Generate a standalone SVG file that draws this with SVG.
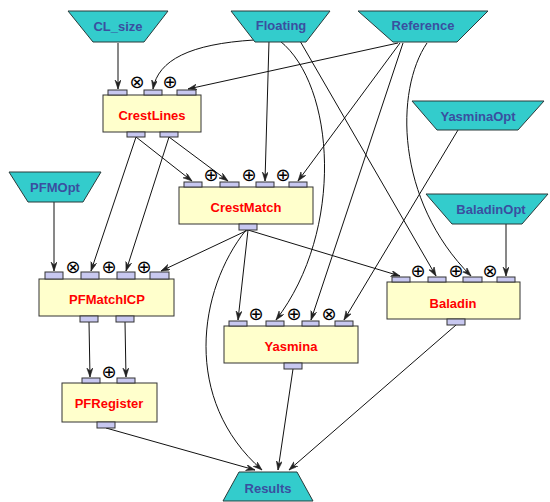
<svg xmlns="http://www.w3.org/2000/svg" width="550" height="502" viewBox="0 0 550 502">
<style>
.io polygon{fill:#33cccc;stroke:#2a3a3a;stroke-width:1}
.io text{font-family:"Liberation Sans",Arial,sans-serif;font-weight:bold;font-size:13px;fill:#3a4fa0;text-anchor:middle}
.box rect.b{fill:#ffffcc;stroke:#333;stroke-width:1}
.box rect.p{fill:#c8c8f0;stroke:#333;stroke-width:1}
.box text.l{font-family:"Liberation Sans",Arial,sans-serif;font-weight:bold;font-size:13px;fill:#ff0000;text-anchor:middle}
.sym{font-family:"DejaVu Sans","Noto Sans",sans-serif;font-size:18px;fill:#000000;text-anchor:middle}
#edges path{fill:none;stroke:#111;stroke-width:1;marker-end:url(#arr)}
</style>
<defs>
<marker id="arr" markerWidth="10" markerHeight="8" refX="9" refY="3" orient="auto" markerUnits="userSpaceOnUse">
<path d="M0,0 L9,3 L0,6 L3,3 Z" fill="#222" stroke="#222" stroke-width="0.6"/>
</marker>
</defs>

<g id="edges">
<path d="M118,43 L118,89"/>
<path d="M254,40 C190,44 158,60 153,89"/>
<path d="M398,43 L188,89"/>
<path d="M269,41 L265,181"/>
<path d="M400,43 L298,181"/>
<path d="M136,137 L192,181"/>
<path d="M169,137 L228,181"/>
<path d="M136,137 L91,271"/>
<path d="M169,137 L126,271"/>
<path d="M54,202 L54,271"/>
<path d="M248,230 L161,271"/>
<path d="M248,230 L238,320"/>
<path d="M248,230 L400,276"/>
<path d="M246,230 C198,290 182,400 262,470"/>
<path d="M280,41 C335,85 345,230 276,320"/>
<path d="M300,41 L436,276"/>
<path d="M403,43 L311,320"/>
<path d="M427,43 C395,90 395,200 471,276"/>
<path d="M458,130 L344,320"/>
<path d="M506,224 L506,276"/>
<path d="M89,322 L90,377"/>
<path d="M125,322 L126,377"/>
<path d="M106,428 L255,470"/>
<path d="M293,369 L278,470"/>
<path d="M456,325 L289,470"/>
</g>

<g id="CL_size" class="io"><polygon points="68,11 168,11 144,42 93,42"/><text x="118" y="31">CL_size</text></g>
<g id="Floating" class="io"><polygon points="231,11 330,11 306,42 255,42"/><text x="281" y="30">Floating</text></g>
<g id="Reference" class="io"><polygon points="358,11 488,11 457,42 393,42"/><text x="423" y="30">Reference</text></g>
<g id="YasminaOpt" class="io"><polygon points="412,101 544,101 518,130 437,130"/><text x="478" y="121">YasminaOpt</text></g>
<g id="PFMOpt" class="io"><polygon points="9,172 101,172 83,202 28,202"/><text x="55" y="192">PFMOpt</text></g>
<g id="BaladinOpt" class="io"><polygon points="426,194 548,194 522,224 452,224"/><text x="491" y="214">BaladinOpt</text></g>
<g id="Results" class="io"><polygon points="239,472 297,472 313,501 223,501"/><text x="268" y="493">Results</text></g>

<g id="CrestLines" class="box">
<rect class="b" x="103" y="95" width="98" height="37"/>
<rect class="p" x="108" y="90" width="19" height="5"/>
<rect class="p" x="144" y="90" width="18" height="5"/>
<rect class="p" x="177" y="90" width="19" height="5"/>
<rect class="p" x="127" y="132" width="18" height="5"/>
<rect class="p" x="160" y="132" width="18" height="5"/>
<text class="sym" x="137" y="88">⊗</text>
<text class="sym" x="170" y="88">⊕</text>
<text class="l" x="152" y="120">CrestLines</text>
</g>

<g id="CrestMatch" class="box">
<rect class="b" x="179" y="187" width="134" height="37"/>
<rect class="p" x="184" y="182" width="18" height="5"/>
<rect class="p" x="220" y="182" width="19" height="5"/>
<rect class="p" x="256" y="182" width="18" height="5"/>
<rect class="p" x="289" y="182" width="18" height="5"/>
<rect class="p" x="239" y="224" width="18" height="6"/>
<text class="sym" x="211" y="181">⊕</text>
<text class="sym" x="249" y="181">⊕</text>
<text class="sym" x="283" y="181">⊕</text>
<text class="l" x="246" y="212">CrestMatch</text>
</g>

<g id="PFMatchICP" class="box">
<rect class="b" x="39" y="279" width="135" height="37"/>
<rect class="p" x="45" y="272" width="18" height="7"/>
<rect class="p" x="81" y="272" width="18" height="7"/>
<rect class="p" x="117" y="272" width="18" height="7"/>
<rect class="p" x="150" y="272" width="19" height="7"/>
<rect class="p" x="80" y="316" width="18" height="6"/>
<rect class="p" x="116" y="316" width="18" height="6"/>
<text class="sym" x="73" y="273">⊗</text>
<text class="sym" x="109" y="273">⊕</text>
<text class="sym" x="144" y="273">⊕</text>
<text class="l" x="107" y="304">PFMatchICP</text>
</g>

<g id="Yasmina" class="box">
<rect class="b" x="224" y="326" width="134" height="37"/>
<rect class="p" x="229" y="321" width="18" height="5"/>
<rect class="p" x="266" y="321" width="18" height="5"/>
<rect class="p" x="302" y="321" width="17" height="5"/>
<rect class="p" x="335" y="321" width="18" height="5"/>
<rect class="p" x="284" y="363" width="18" height="6"/>
<text class="sym" x="256" y="320">⊕</text>
<text class="sym" x="294" y="320">⊕</text>
<text class="sym" x="329" y="320">⊗</text>
<text class="l" x="291" y="351">Yasmina</text>
</g>

<g id="Baladin" class="box">
<rect class="b" x="387" y="282" width="133" height="37"/>
<rect class="p" x="392" y="277" width="18" height="5"/>
<rect class="p" x="428" y="277" width="18" height="5"/>
<rect class="p" x="463" y="277" width="19" height="5"/>
<rect class="p" x="497" y="277" width="18" height="5"/>
<rect class="p" x="447" y="319" width="18" height="6"/>
<text class="sym" x="418" y="277">⊕</text>
<text class="sym" x="456" y="277">⊕</text>
<text class="sym" x="490" y="277">⊗</text>
<text class="l" x="453" y="308">Baladin</text>
</g>

<g id="PFRegister" class="box">
<rect class="b" x="62" y="383" width="95" height="39"/>
<rect class="p" x="82" y="378" width="18" height="5"/>
<rect class="p" x="117" y="378" width="18" height="5"/>
<rect class="p" x="97" y="422" width="18" height="6"/>
<text class="sym" x="109" y="378">⊕</text>
<text class="l" x="109" y="408">PFRegister</text>
</g>
</svg>
